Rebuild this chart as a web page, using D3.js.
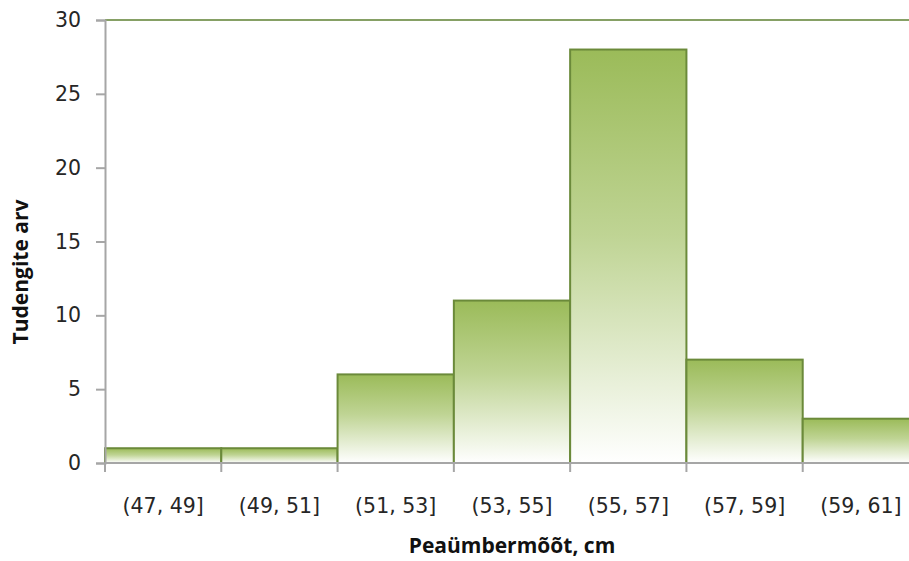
<!DOCTYPE html>
<html>
<head>
<meta charset="utf-8">
<script src="https://cdn.jsdelivr.net/npm/d3@7"></script>
<style>
  body { margin: 0; background: #fff; }
  svg { display: block; }
</style>
</head>
<body>
<div id="chart"></div>
<script>
// histogram of head circumference
const categories = ["(47, 49]", "(49, 51]", "(51, 53]", "(53, 55]", "(55, 57]", "(57, 59]", "(59, 61]"];
const counts = [1, 1, 6, 11, 28, 7, 3];
const yTicks = [0, 5, 10, 15, 20, 25, 30];

const width = 909;
const height = 561;
const margin = { top: 20, right: -10, bottom: 98, left: 105 };

const svg = d3
  .select("#chart")
  .append("svg")
  .attr("width", width)
  .attr("height", height);

const grad = svg.append("defs").append("linearGradient")
  .attr("id", "barFill")
  .attr("x1", 0).attr("y1", 0)
  .attr("x2", 0).attr("y2", 1);
grad.append("stop").attr("offset", "0%").attr("stop-color", "#9bbb59");
grad.append("stop").attr("offset", "45%").attr("stop-color", "#bfd494");
grad.append("stop").attr("offset", "100%").attr("stop-color", "#ffffff");

const xScale = d3
  .scaleBand()
  .domain(categories)
  .range([margin.left, width - margin.right])
  .padding(0);

const yScale = d3
  .scaleLinear()
  .domain([0, 30])
  .range([height - margin.bottom, margin.top]);

// top border of plot area
svg.append("line")
  .attr("x1", margin.left)
  .attr("x2", width)
  .attr("y1", yScale(30))
  .attr("y2", yScale(30))
  .attr("stroke", "#86a065")
  .attr("stroke-width", 2);

// bars
svg
  .selectAll(".bar")
  .data(counts)
  .enter()
  .append("rect")
  .attr("class", "bar")
  .attr("x", (d, i) => xScale(categories[i]))
  .attr("y", (d) => yScale(d))
  .attr("width", xScale.bandwidth())
  .attr("height", (d) => yScale(0) - yScale(d))
  .attr("fill", "url(#barFill)")
  .attr("stroke", "#6b8a3a")
  .attr("stroke-width", 2);

// y axis
const yAxis = svg.append("g")
  .attr("transform", `translate(${margin.left}, 0)`)
  .call(d3.axisLeft(yScale).tickValues(yTicks).tickSize(9).tickPadding(15));

// x axis, ticks on band edges
const edges = categories.map((c) => xScale(c)).concat([xScale(categories[6]) + xScale.bandwidth()]);
const xAxis = svg.append("g")
  .attr("transform", `translate(0, ${yScale(0)})`)
  .call(d3.axisBottom(xScale).tickSize(0).tickPadding(35));
xAxis.selectAll(".edge")
  .data(edges)
  .enter()
  .append("line")
  .attr("class", "edge")
  .attr("x1", (d) => d)
  .attr("x2", (d) => d)
  .attr("y1", 0)
  .attr("y2", 9);

[yAxis, xAxis].forEach((g) => {
  g.select(".domain").attr("stroke", "#a6a6a6").attr("stroke-width", 2);
  g.selectAll("line").attr("stroke", "#a6a6a6").attr("stroke-width", 2);
  g.selectAll("text")
    .attr("fill", "#262626")
    .style("font-family", "DejaVu Sans, sans-serif")
    .style("font-size", "20.5px");
});
xAxis.select(".domain").attr("d", `M${margin.left},0H${width}`);

// axis titles
svg.append("text")
  .attr("x", 512)
  .attr("y", 553)
  .attr("text-anchor", "middle")
  .style("font-family", "Open Sans, sans-serif")
  .style("font-weight", "bold")
  .style("font-size", "21px")
  .attr("fill", "#111")
  .text("Peaümbermõõt, cm");

svg.append("text")
  .attr("transform", "translate(28, 272) rotate(-90)")
  .attr("text-anchor", "middle")
  .style("font-family", "Open Sans, sans-serif")
  .style("font-weight", "bold")
  .style("font-size", "21px")
  .attr("fill", "#111")
  .text("Tudengite arv");
</script>
</body>
</html>
